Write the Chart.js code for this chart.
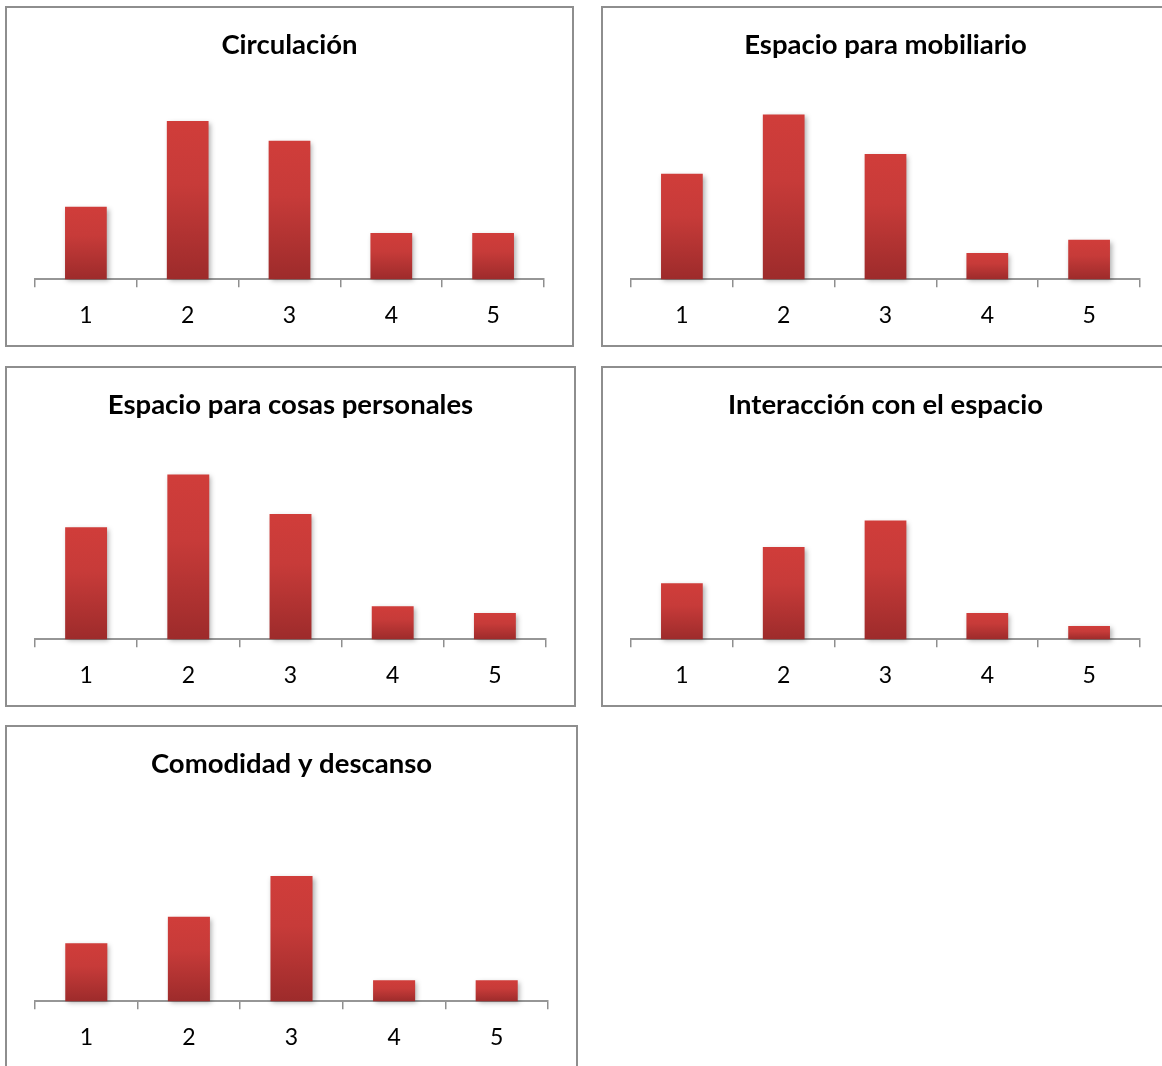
<!DOCTYPE html>
<html lang="es">
<head>
<meta charset="utf-8">
<title>Evaluación del espacio</title>
<script src="https://cdn.jsdelivr.net/npm/chart.js@4.4.1/dist/chart.umd.min.js"></script>
<style>
  html, body { margin: 0; padding: 0; background: #fff; width: 1162px; height: 1066px; overflow: hidden; }
  .panel { position: absolute; box-sizing: border-box; border: 2px solid #8e8e8e; background: #fff; }
  .panel canvas { display: block; }
</style>
</head>
<body>
<div class="panel" style="left:5px;top:6px;width:569px;height:341px"><canvas id="c1" width="565" height="337"></canvas></div>
<div class="panel" style="left:601px;top:6px;width:569px;height:341px"><canvas id="c2" width="565" height="337"></canvas></div>
<div class="panel" style="left:5px;top:366px;width:571px;height:341px"><canvas id="c3" width="567" height="337"></canvas></div>
<div class="panel" style="left:601px;top:366px;width:569px;height:341px"><canvas id="c4" width="565" height="337"></canvas></div>
<div class="panel" style="left:5px;top:725px;width:573px;height:344px"><canvas id="c5" width="569" height="340"></canvas></div>
<script>
// Rating scale (1–5) shared by every panel
const categories = ['1', '2', '3', '4', '5'];

// Number of answers for each rating, one array per aspect
const circulacion     = [11, 24, 21, 7, 7];
const mobiliario      = [16, 25, 19, 4, 6];
const cosasPersonales = [17, 25, 19, 5, 4];
const interaccion     = [8.5, 14, 18, 4, 2];
const comodidad       = [8.8, 12.8, 19, 3.2, 3.2];

// Panel titles
const titles = [
  'Circulación',
  'Espacio para mobiliario',
  'Espacio para cosas personales',
  'Interacción con el espacio',
  'Comodidad y descanso'
];

const FONT = 'Lato, "Open Sans", sans-serif';
const AXIS_MAX = 30;

// Vertical red gradient spanning each bar from its top to the baseline
function barFill(ctx) {
  const chart = ctx.chart;
  const y = chart.scales && chart.scales.y;
  if (!y || ctx.type !== 'data') return '#c23a38';
  const top = y.getPixelForValue(ctx.raw);
  const base = y.getPixelForValue(0);
  if (!isFinite(top) || !isFinite(base) || base === top) return '#c23a38';
  const g = chart.ctx.createLinearGradient(0, top, 0, base);
  g.addColorStop(0, '#d03d3a');
  g.addColorStop(0.4, '#c73b39');
  g.addColorStop(1, '#9d2b2b');
  return g;
}

// Soft drop shadow behind the bars
const barShadow = {
  id: 'barShadow',
  beforeDatasetsDraw(chart) {
    const c = chart.ctx;
    c.save();
    c.shadowColor = 'rgba(0,0,0,0.32)';
    c.shadowBlur = 5;
    c.shadowOffsetX = 2;
    c.shadowOffsetY = 2;
  },
  afterDatasetsDraw(chart) {
    chart.ctx.restore();
  }
};

function makeChart(id, title, values, extraGap) {
  return new Chart(document.getElementById(id), {
    type: 'bar',
    data: {
      labels: categories,
      datasets: [{
        data: values,
        backgroundColor: barFill,
        borderWidth: 0,
        barPercentage: 0.41,
        categoryPercentage: 1,
        clip: false
      }]
    },
    options: {
      responsive: false,
      animation: false,
      devicePixelRatio: 1,
      events: [],
      layout: { padding: { left: 28, right: 28, top: 0, bottom: 0 } },
      plugins: {
        legend: { display: false },
        tooltip: { enabled: false },
        title: {
          display: true,
          text: title,
          color: '#000',
          font: { family: FONT, size: 27.5, weight: 'bold' },
          padding: { top: 21, bottom: 19.4 + extraGap }
        }
      },
      scales: {
        x: {
          grid: {
            drawOnChartArea: false,
            drawTicks: true,
            tickLength: 8,
            color: '#8f8f8f',
            lineWidth: 1.5,
            offset: true
          },
          border: { display: true, color: '#969696', width: 2 },
          ticks: {
            color: '#000',
            font: { family: FONT, size: 23 },
            padding: 14.9,
            maxRotation: 0
          },
          afterFit(scale) { scale.height = 65.7; }
        },
        y: { display: false, min: 0, max: AXIS_MAX }
      }
    },
    plugins: [barShadow]
  });
}

makeChart('c1', titles[0], circulacion, 0);
makeChart('c2', titles[1], mobiliario, 0);
makeChart('c3', titles[2], cosasPersonales, 0);
makeChart('c4', titles[3], interaccion, 0);
makeChart('c5', titles[4], comodidad, 3);
</script>
</body>
</html>
